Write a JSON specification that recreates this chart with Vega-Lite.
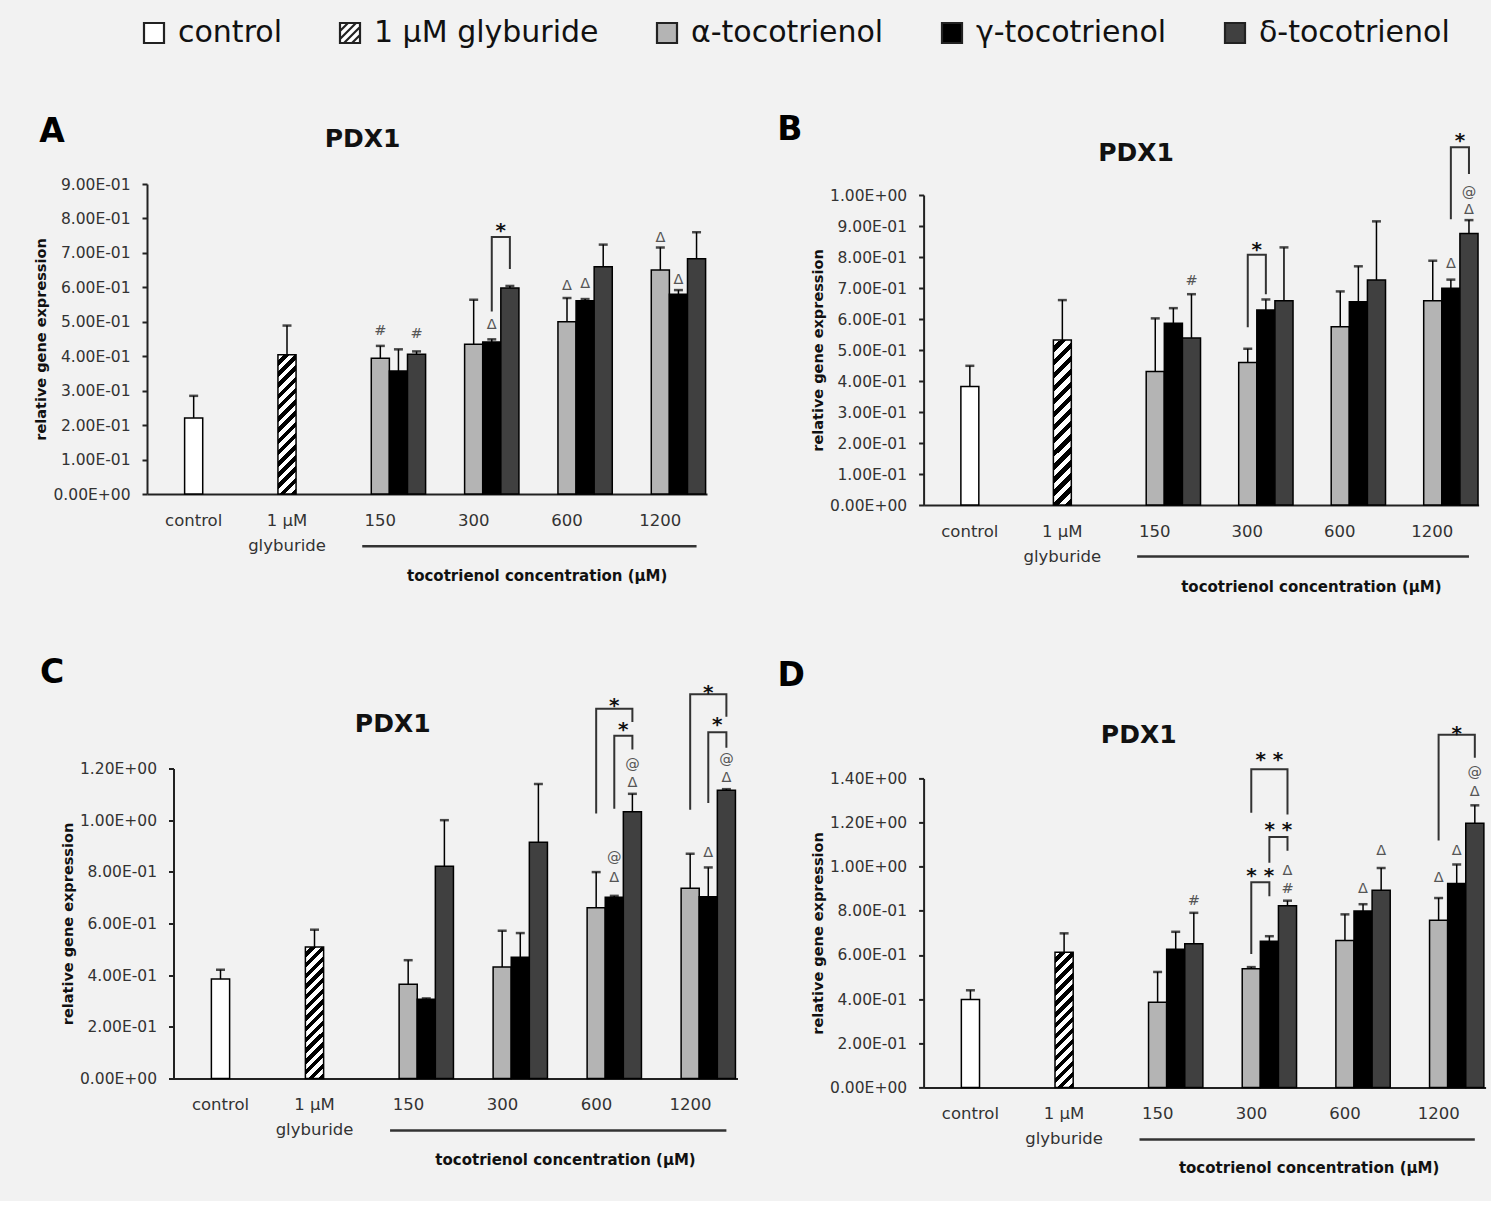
{
"$schema": "https://vega.github.io/schema/vega-lite/v6.json",
"background": "#f2f2f2",
"padding": {"left": 33, "top": 18, "right": 5, "bottom": 25},
"config": {
  "view": {"stroke": null},
  "font": "DejaVu Sans",
  "axis": {"grid": false, "domainColor": "#222", "domainWidth": 2, "labelFont": "DejaVu Sans", "labelColor": "#333", "titleFont": "DejaVu Sans", "titleColor": "#111", "titleFontWeight": "bold"},
  "axisX": {"ticks": false, "tickSize": 0, "labelFontSize": 16.5, "labelPadding": 18, "labelAngle": 0, "labelLineHeight": 25, "titleFontSize": 15, "titleBaseline": "middle", "titleAlign": "center"},
  "axisY": {"tickSize": 5, "tickWidth": 2, "tickColor": "#222", "labelFontSize": 15.5, "labelPadding": 12, "titleFontSize": 14.5, "titlePadding": 4}
},
"datasets": {
  "bars": [
    {"panel":"A","group":"control","series":"control","value":0.221,"hi":0.285},
    {"panel":"A","group":"1 µM glyburide","series":"1 µM glyburide","value":0.404,"hi":0.489},
    {"panel":"A","group":"150","series":"α-tocotrienol","value":0.394,"hi":0.43},
    {"panel":"A","group":"150","series":"γ-tocotrienol","value":0.357,"hi":0.42},
    {"panel":"A","group":"150","series":"δ-tocotrienol","value":0.406,"hi":0.414},
    {"panel":"A","group":"300","series":"α-tocotrienol","value":0.435,"hi":0.564},
    {"panel":"A","group":"300","series":"γ-tocotrienol","value":0.441,"hi":0.449},
    {"panel":"A","group":"300","series":"δ-tocotrienol","value":0.598,"hi":0.604},
    {"panel":"A","group":"600","series":"α-tocotrienol","value":0.5,"hi":0.569},
    {"panel":"A","group":"600","series":"γ-tocotrienol","value":0.561,"hi":0.566},
    {"panel":"A","group":"600","series":"δ-tocotrienol","value":0.66,"hi":0.724},
    {"panel":"A","group":"1200","series":"α-tocotrienol","value":0.65,"hi":0.716},
    {"panel":"A","group":"1200","series":"γ-tocotrienol","value":0.58,"hi":0.592},
    {"panel":"A","group":"1200","series":"δ-tocotrienol","value":0.683,"hi":0.76},
    {"panel":"B","group":"control","series":"control","value":0.382,"hi":0.449},
    {"panel":"B","group":"1 µM glyburide","series":"1 µM glyburide","value":0.532,"hi":0.661},
    {"panel":"B","group":"150","series":"α-tocotrienol","value":0.431,"hi":0.602},
    {"panel":"B","group":"150","series":"γ-tocotrienol","value":0.586,"hi":0.635},
    {"panel":"B","group":"150","series":"δ-tocotrienol","value":0.539,"hi":0.68},
    {"panel":"B","group":"300","series":"α-tocotrienol","value":0.46,"hi":0.504},
    {"panel":"B","group":"300","series":"γ-tocotrienol","value":0.629,"hi":0.663},
    {"panel":"B","group":"300","series":"δ-tocotrienol","value":0.659,"hi":0.831},
    {"panel":"B","group":"600","series":"α-tocotrienol","value":0.575,"hi":0.689},
    {"panel":"B","group":"600","series":"γ-tocotrienol","value":0.656,"hi":0.77},
    {"panel":"B","group":"600","series":"δ-tocotrienol","value":0.726,"hi":0.915},
    {"panel":"B","group":"1200","series":"α-tocotrienol","value":0.659,"hi":0.788},
    {"panel":"B","group":"1200","series":"γ-tocotrienol","value":0.699,"hi":0.727},
    {"panel":"B","group":"1200","series":"δ-tocotrienol","value":0.876,"hi":0.919},
    {"panel":"C","group":"control","series":"control","value":0.385,"hi":0.421},
    {"panel":"C","group":"1 µM glyburide","series":"1 µM glyburide","value":0.509,"hi":0.576},
    {"panel":"C","group":"150","series":"α-tocotrienol","value":0.365,"hi":0.458},
    {"panel":"C","group":"150","series":"γ-tocotrienol","value":0.307,"hi":0.31},
    {"panel":"C","group":"150","series":"δ-tocotrienol","value":0.822,"hi":1.0},
    {"panel":"C","group":"300","series":"α-tocotrienol","value":0.432,"hi":0.572},
    {"panel":"C","group":"300","series":"γ-tocotrienol","value":0.469,"hi":0.563},
    {"panel":"C","group":"300","series":"δ-tocotrienol","value":0.915,"hi":1.14},
    {"panel":"C","group":"600","series":"α-tocotrienol","value":0.661,"hi":0.799},
    {"panel":"C","group":"600","series":"γ-tocotrienol","value":0.702,"hi":0.707},
    {"panel":"C","group":"600","series":"δ-tocotrienol","value":1.033,"hi":1.102},
    {"panel":"C","group":"1200","series":"α-tocotrienol","value":0.736,"hi":0.87},
    {"panel":"C","group":"1200","series":"γ-tocotrienol","value":0.704,"hi":0.817},
    {"panel":"C","group":"1200","series":"δ-tocotrienol","value":1.116,"hi":1.12},
    {"panel":"D","group":"control","series":"control","value":0.398,"hi":0.44},
    {"panel":"D","group":"1 µM glyburide","series":"1 µM glyburide","value":0.612,"hi":0.698},
    {"panel":"D","group":"150","series":"α-tocotrienol","value":0.386,"hi":0.523},
    {"panel":"D","group":"150","series":"γ-tocotrienol","value":0.626,"hi":0.705},
    {"panel":"D","group":"150","series":"δ-tocotrienol","value":0.651,"hi":0.791},
    {"panel":"D","group":"300","series":"α-tocotrienol","value":0.538,"hi":0.545},
    {"panel":"D","group":"300","series":"γ-tocotrienol","value":0.662,"hi":0.685},
    {"panel":"D","group":"300","series":"δ-tocotrienol","value":0.823,"hi":0.846},
    {"panel":"D","group":"600","series":"α-tocotrienol","value":0.666,"hi":0.784},
    {"panel":"D","group":"600","series":"γ-tocotrienol","value":0.799,"hi":0.83},
    {"panel":"D","group":"600","series":"δ-tocotrienol","value":0.893,"hi":0.994},
    {"panel":"D","group":"1200","series":"α-tocotrienol","value":0.757,"hi":0.858},
    {"panel":"D","group":"1200","series":"γ-tocotrienol","value":0.924,"hi":1.01},
    {"panel":"D","group":"1200","series":"δ-tocotrienol","value":1.197,"hi":1.278}
  ],
  "notes": [
    {"panel":"A","group":"150","series":"α-tocotrienol","sym":"#","value":0.474},
    {"panel":"A","group":"150","series":"δ-tocotrienol","sym":"#","value":0.464},
    {"panel":"A","group":"300","series":"γ-tocotrienol","sym":"Δ","value":0.491},
    {"panel":"A","group":"600","series":"α-tocotrienol","sym":"Δ","value":0.605},
    {"panel":"A","group":"600","series":"γ-tocotrienol","sym":"Δ","value":0.61},
    {"panel":"A","group":"1200","series":"α-tocotrienol","sym":"Δ","value":0.744},
    {"panel":"A","group":"1200","series":"γ-tocotrienol","sym":"Δ","value":0.62},
    {"panel":"B","group":"150","series":"δ-tocotrienol","sym":"#","value":0.723},
    {"panel":"B","group":"1200","series":"γ-tocotrienol","sym":"Δ","value":0.777},
    {"panel":"B","group":"1200","series":"δ-tocotrienol","sym":"Δ","value":0.952},
    {"panel":"B","group":"1200","series":"δ-tocotrienol","sym":"@","value":1.008},
    {"panel":"C","group":"600","series":"γ-tocotrienol","sym":"Δ","value":0.776},
    {"panel":"C","group":"600","series":"γ-tocotrienol","sym":"@","value":0.853},
    {"panel":"C","group":"600","series":"δ-tocotrienol","sym":"Δ","value":1.143},
    {"panel":"C","group":"600","series":"δ-tocotrienol","sym":"@","value":1.213},
    {"panel":"C","group":"1200","series":"γ-tocotrienol","sym":"Δ","value":0.873},
    {"panel":"C","group":"1200","series":"δ-tocotrienol","sym":"Δ","value":1.164},
    {"panel":"C","group":"1200","series":"δ-tocotrienol","sym":"@","value":1.233},
    {"panel":"D","group":"150","series":"δ-tocotrienol","sym":"#","value":0.846},
    {"panel":"D","group":"300","series":"δ-tocotrienol","sym":"#","value":0.9},
    {"panel":"D","group":"300","series":"δ-tocotrienol","sym":"Δ","value":0.982},
    {"panel":"D","group":"600","series":"γ-tocotrienol","sym":"Δ","value":0.9},
    {"panel":"D","group":"600","series":"δ-tocotrienol","sym":"Δ","value":1.072},
    {"panel":"D","group":"1200","series":"α-tocotrienol","sym":"Δ","value":0.947},
    {"panel":"D","group":"1200","series":"γ-tocotrienol","sym":"Δ","value":1.072},
    {"panel":"D","group":"1200","series":"δ-tocotrienol","sym":"Δ","value":1.338},
    {"panel":"D","group":"1200","series":"δ-tocotrienol","sym":"@","value":1.424}
  ],
  "brackets": [
    {"panel":"A","bid":"A1","ord":1,"group":"300","series":"γ-tocotrienol","value":0.53},
    {"panel":"A","bid":"A1","ord":2,"group":"300","series":"γ-tocotrienol","value":0.746},
    {"panel":"A","bid":"A1","ord":3,"group":"300","series":"δ-tocotrienol","value":0.746},
    {"panel":"A","bid":"A1","ord":4,"group":"300","series":"δ-tocotrienol","value":0.653},
    {"panel":"B","bid":"B1","ord":1,"group":"300","series":"α-tocotrienol","value":0.573},
    {"panel":"B","bid":"B1","ord":2,"group":"300","series":"α-tocotrienol","value":0.807},
    {"panel":"B","bid":"B1","ord":3,"group":"300","series":"γ-tocotrienol","value":0.807},
    {"panel":"B","bid":"B1","ord":4,"group":"300","series":"γ-tocotrienol","value":0.68},
    {"panel":"B","bid":"B2","ord":1,"group":"1200","series":"γ-tocotrienol","value":0.922},
    {"panel":"B","bid":"B2","ord":2,"group":"1200","series":"γ-tocotrienol","value":1.154},
    {"panel":"B","bid":"B2","ord":3,"group":"1200","series":"δ-tocotrienol","value":1.154},
    {"panel":"B","bid":"B2","ord":4,"group":"1200","series":"δ-tocotrienol","value":1.068},
    {"panel":"C","bid":"C1","ord":1,"group":"600","series":"α-tocotrienol","value":1.026},
    {"panel":"C","bid":"C1","ord":2,"group":"600","series":"α-tocotrienol","value":1.431},
    {"panel":"C","bid":"C1","ord":3,"group":"600","series":"δ-tocotrienol","value":1.431},
    {"panel":"C","bid":"C1","ord":4,"group":"600","series":"δ-tocotrienol","value":1.38},
    {"panel":"C","bid":"C2","ord":1,"group":"600","series":"γ-tocotrienol","value":1.044},
    {"panel":"C","bid":"C2","ord":2,"group":"600","series":"γ-tocotrienol","value":1.327},
    {"panel":"C","bid":"C2","ord":3,"group":"600","series":"δ-tocotrienol","value":1.327},
    {"panel":"C","bid":"C2","ord":4,"group":"600","series":"δ-tocotrienol","value":1.274},
    {"panel":"C","bid":"C3","ord":1,"group":"1200","series":"α-tocotrienol","value":1.04},
    {"panel":"C","bid":"C3","ord":2,"group":"1200","series":"α-tocotrienol","value":1.487},
    {"panel":"C","bid":"C3","ord":3,"group":"1200","series":"δ-tocotrienol","value":1.487},
    {"panel":"C","bid":"C3","ord":4,"group":"1200","series":"δ-tocotrienol","value":1.4},
    {"panel":"C","bid":"C4","ord":1,"group":"1200","series":"γ-tocotrienol","value":1.066},
    {"panel":"C","bid":"C4","ord":2,"group":"1200","series":"γ-tocotrienol","value":1.34},
    {"panel":"C","bid":"C4","ord":3,"group":"1200","series":"δ-tocotrienol","value":1.34},
    {"panel":"C","bid":"C4","ord":4,"group":"1200","series":"δ-tocotrienol","value":1.28},
    {"panel":"D","bid":"D1","ord":1,"group":"300","series":"α-tocotrienol","value":0.604},
    {"panel":"D","bid":"D1","ord":2,"group":"300","series":"α-tocotrienol","value":0.929},
    {"panel":"D","bid":"D1","ord":3,"group":"300","series":"γ-tocotrienol","value":0.929},
    {"panel":"D","bid":"D1","ord":4,"group":"300","series":"γ-tocotrienol","value":0.866},
    {"panel":"D","bid":"D2","ord":1,"group":"300","series":"γ-tocotrienol","value":1.018},
    {"panel":"D","bid":"D2","ord":2,"group":"300","series":"γ-tocotrienol","value":1.135},
    {"panel":"D","bid":"D2","ord":3,"group":"300","series":"δ-tocotrienol","value":1.135},
    {"panel":"D","bid":"D2","ord":4,"group":"300","series":"δ-tocotrienol","value":1.072},
    {"panel":"D","bid":"D3","ord":1,"group":"300","series":"α-tocotrienol","value":1.244},
    {"panel":"D","bid":"D3","ord":2,"group":"300","series":"α-tocotrienol","value":1.442},
    {"panel":"D","bid":"D3","ord":3,"group":"300","series":"δ-tocotrienol","value":1.442},
    {"panel":"D","bid":"D3","ord":4,"group":"300","series":"δ-tocotrienol","value":1.236},
    {"panel":"D","bid":"D4","ord":1,"group":"1200","series":"α-tocotrienol","value":1.119},
    {"panel":"D","bid":"D4","ord":2,"group":"1200","series":"α-tocotrienol","value":1.598},
    {"panel":"D","bid":"D4","ord":3,"group":"1200","series":"δ-tocotrienol","value":1.598},
    {"panel":"D","bid":"D4","ord":4,"group":"1200","series":"δ-tocotrienol","value":1.494}
  ],
  "stars": [
    {"panel":"A","group":"300","series":"γ-tocotrienol","kind":"mid","star":"*","value":0.777},
    {"panel":"B","group":"300","series":"α-tocotrienol","kind":"mid","star":"*","value":0.84},
    {"panel":"B","group":"1200","series":"γ-tocotrienol","kind":"mid","star":"*","value":1.19},
    {"panel":"C","group":"600","series":"γ-tocotrienol","kind":"center","star":"*","value":1.463},
    {"panel":"C","group":"600","series":"γ-tocotrienol","kind":"mid","star":"*","value":1.37},
    {"panel":"C","group":"1200","series":"γ-tocotrienol","kind":"center","star":"*","value":1.51},
    {"panel":"C","group":"1200","series":"γ-tocotrienol","kind":"mid","star":"*","value":1.387},
    {"panel":"D","group":"300","series":"α-tocotrienol","kind":"mid","star":"* *","value":0.979},
    {"panel":"D","group":"300","series":"γ-tocotrienol","kind":"mid","star":"* *","value":1.19},
    {"panel":"D","group":"300","series":"γ-tocotrienol","kind":"center","star":"* *","value":1.505},
    {"panel":"D","group":"1200","series":"γ-tocotrienol","kind":"center","star":"*","value":1.626}
  ],
  "underline": [
    {"group":"150","series":"_2"},
    {"group":"1200","series":"δ-tocotrienol"}
  ]
},
"spacing": 38.6,
"hconcat": [
 {"spacing": 73.5, "vconcat": [
  {
    "width": 560, "height": 310,
    "layer": [
     {
      "encoding": {
        "x": {"field": "group", "type": "nominal", "scale": {"domain": ["control","1 µM glyburide","150","300","600","1200"], "paddingInner": 0.03, "paddingOuter": 0.015}, "axis": {"title": "tocotrienol concentration (µM)", "titleX": 389.7, "titleY": 81, "labelExpr": "datum.value == '1 µM glyburide' ? ['1 µM', 'glyburide'] : datum.label"}},
        "y": {"field": "value", "type": "quantitative", "title": "relative gene expression", "scale": {"domain": [0, 0.9], "nice": false}, "axis": {"values": [0,0.1,0.2,0.3,0.4,0.5,0.6,0.7,0.8,0.9], "labelExpr": "slice(format(datum.value,'.2e'),0,4)+'E'+slice(format(datum.value,'.2e'),5,6)+'0'+slice(format(datum.value,'.2e'),6)"}}
      },
      "layer": [
        {"data": {"name": "bars"}, "transform": [{"filter": "datum.panel == 'A'"}], "mark": {"type": "point", "filled": true, "opacity": 0},
         "encoding": {
           "color": {"field": "series", "type": "nominal", "scale": {"domain": ["control","1 µM glyburide","α-tocotrienol","γ-tocotrienol","δ-tocotrienol"], "range": ["#ffffff","#ffffff","#b4b4b4","#000000","#404040"]},
             "legend": {"orient": "none", "legendX": -8, "legendY": -166, "direction": "horizontal", "title": null, "padding": 0, "symbolSize": 400, "symbolStrokeColor": "#222", "symbolStrokeWidth": 2.2, "symbolOpacity": 1, "labelFont": "DejaVu Sans", "labelFontSize": 30, "labelColor": "#111", "labelOffset": 9, "columnPadding": 53, "labelLimit": 500, "encode": {"symbols": {"update": {"stroke": {"value": "#222"}, "strokeWidth": {"value": 2.2}}}}}},
           "shape": {"field": "series", "type": "nominal", "scale": {"domain": ["control","1 µM glyburide","α-tocotrienol","γ-tocotrienol","δ-tocotrienol"], "range": ["square","M-1,-1H1V1H-1Z M-1,-0.2L-0.2,-1 M-1,0.6L0.6,-1 M-0.6,1L1,-0.6 M0.2,1L1,0.2","square","square","square"]},
             "legend": {"orient": "none", "legendX": -8, "legendY": -166, "direction": "horizontal", "title": null, "padding": 0, "symbolSize": 400, "symbolStrokeColor": "#222", "symbolStrokeWidth": 2.2, "symbolOpacity": 1, "labelFont": "DejaVu Sans", "labelFontSize": 30, "labelColor": "#111", "labelOffset": 9, "columnPadding": 53, "labelLimit": 500, "encode": {"symbols": {"update": {"stroke": {"value": "#222"}, "strokeWidth": {"value": 2.2}}}}}}
         }},
        {"data": {"name": "bars"}, "transform": [{"filter": "datum.panel == 'A' && datum.series == 'control'"}], "mark": {"type": "bar", "width": {"band": 0.2}, "fill": "#ffffff", "stroke": "#000", "strokeWidth": 1.5}},
        {"data": {"name": "bars"}, "transform": [{"filter": "datum.panel == 'A' && datum.series == '1 µM glyburide'"}], "mark": {"type": "bar", "width": {"band": 0.2}, "stroke": "#000", "strokeWidth": 1.5, "fill": {"gradient": "linear", "x1": 0, "y1": 0, "x2": 0.1447, "y2": 1.1114, "stops": [{"offset":0,"color":"#fff"},{"offset":0.0357,"color":"#fff"},{"offset":0.0357,"color":"#000"},{"offset":0.0714,"color":"#000"},{"offset":0.0714,"color":"#fff"},{"offset":0.1071,"color":"#fff"},{"offset":0.1071,"color":"#000"},{"offset":0.1429,"color":"#000"},{"offset":0.1429,"color":"#fff"},{"offset":0.1786,"color":"#fff"},{"offset":0.1786,"color":"#000"},{"offset":0.2143,"color":"#000"},{"offset":0.2143,"color":"#fff"},{"offset":0.25,"color":"#fff"},{"offset":0.25,"color":"#000"},{"offset":0.2857,"color":"#000"},{"offset":0.2857,"color":"#fff"},{"offset":0.3214,"color":"#fff"},{"offset":0.3214,"color":"#000"},{"offset":0.3571,"color":"#000"},{"offset":0.3571,"color":"#fff"},{"offset":0.3929,"color":"#fff"},{"offset":0.3929,"color":"#000"},{"offset":0.4286,"color":"#000"},{"offset":0.4286,"color":"#fff"},{"offset":0.4643,"color":"#fff"},{"offset":0.4643,"color":"#000"},{"offset":0.5,"color":"#000"},{"offset":0.5,"color":"#fff"},{"offset":0.5357,"color":"#fff"},{"offset":0.5357,"color":"#000"},{"offset":0.5714,"color":"#000"},{"offset":0.5714,"color":"#fff"},{"offset":0.6071,"color":"#fff"},{"offset":0.6071,"color":"#000"},{"offset":0.6429,"color":"#000"},{"offset":0.6429,"color":"#fff"},{"offset":0.6786,"color":"#fff"},{"offset":0.6786,"color":"#000"},{"offset":0.7143,"color":"#000"},{"offset":0.7143,"color":"#fff"},{"offset":0.75,"color":"#fff"},{"offset":0.75,"color":"#000"},{"offset":0.7857,"color":"#000"},{"offset":0.7857,"color":"#fff"},{"offset":0.8214,"color":"#fff"},{"offset":0.8214,"color":"#000"},{"offset":0.8571,"color":"#000"},{"offset":0.8571,"color":"#fff"},{"offset":0.8929,"color":"#fff"},{"offset":0.8929,"color":"#000"},{"offset":0.9286,"color":"#000"},{"offset":0.9286,"color":"#fff"},{"offset":0.9643,"color":"#fff"},{"offset":0.9643,"color":"#000"},{"offset":1,"color":"#000"}]}}},
        {"data": {"name": "bars"}, "transform": [{"filter": "datum.panel == 'A' && datum.group != 'control' && datum.group != '1 µM glyburide'"}], "mark": {"type": "bar", "stroke": "#000", "strokeWidth": 1.5},
         "encoding": {
           "xOffset": {"field": "series", "type": "nominal", "scale": {"domain": ["_1","_2","α-tocotrienol","γ-tocotrienol","δ-tocotrienol"], "paddingInner": 0, "paddingOuter": 0}},
           "fill": {"field": "series", "type": "nominal", "scale": {"domain": ["control","1 µM glyburide","α-tocotrienol","γ-tocotrienol","δ-tocotrienol"], "range": ["#ffffff","#ffffff","#b4b4b4","#000000","#404040"]}, "legend": null}
         }},
        {"data": {"name": "bars"}, "transform": [{"filter": "datum.panel == 'A' && (datum.group == 'control' || datum.group == '1 µM glyburide')"}], "mark": {"type": "rule", "color": "#000", "strokeWidth": 1.5}, "encoding": {"y2": {"field": "hi"}}},
        {"data": {"name": "bars"}, "transform": [{"filter": "datum.panel == 'A' && (datum.group == 'control' || datum.group == '1 µM glyburide')"}], "mark": {"type": "tick", "color": "#000", "thickness": 2.5, "size": 9}, "encoding": {"y": {"field": "hi", "type": "quantitative", "title": "relative gene expression"}}},
        {"data": {"name": "bars"}, "transform": [{"filter": "datum.panel == 'A' && datum.group != 'control' && datum.group != '1 µM glyburide'"}], "mark": {"type": "rule", "color": "#000", "strokeWidth": 1.5}, "encoding": {"xOffset": {"field": "series", "type": "nominal"}, "y2": {"field": "hi"}}},
        {"data": {"name": "bars"}, "transform": [{"filter": "datum.panel == 'A' && datum.group != 'control' && datum.group != '1 µM glyburide'"}], "mark": {"type": "tick", "color": "#000", "thickness": 2.5, "size": 9}, "encoding": {"xOffset": {"field": "series", "type": "nominal"}, "y": {"field": "hi", "type": "quantitative", "title": "relative gene expression"}}},
        {"data": {"name": "notes"}, "transform": [{"filter": "datum.panel == 'A'"}], "mark": {"type": "text", "fontSize": 14.5, "color": "#555", "baseline": "middle"}, "encoding": {"xOffset": {"field": "series", "type": "nominal"}, "text": {"field": "sym"}}},
        {"data": {"name": "brackets"}, "transform": [{"filter": "datum.panel == 'A'"}], "mark": {"type": "line", "color": "#333", "strokeWidth": 2}, "encoding": {"xOffset": {"field": "series", "type": "nominal"}, "detail": {"field": "bid"}, "order": {"field": "ord"}}},
        {"data": {"name": "stars"}, "transform": [{"filter": "datum.panel == 'A' && datum.kind == 'center'"}], "mark": {"type": "text", "fontSize": 20, "fontWeight": "bold", "color": "#111", "baseline": "middle", "dy": 5}, "encoding": {"xOffset": {"field": "series", "type": "nominal"}, "text": {"field": "star"}}},
        {"data": {"name": "stars"}, "transform": [{"filter": "datum.panel == 'A' && datum.kind == 'mid'"}], "mark": {"type": "text", "fontSize": 20, "fontWeight": "bold", "color": "#111", "baseline": "middle", "dy": 5, "dx": 9}, "encoding": {"xOffset": {"field": "series", "type": "nominal"}, "text": {"field": "star"}}}
      ]
     },
     {"data": {"name": "underline"}, "mark": {"type": "line", "color": "#333", "strokeWidth": 2.5}, "encoding": {"x": {"field": "group", "type": "nominal", "title": "tocotrienol concentration (µM)"}, "xOffset": {"field": "series", "type": "nominal"}, "y": {"datum": -0.152, "title": "relative gene expression", "axis": {"values": [0,0.1,0.2,0.3,0.4,0.5,0.6,0.7,0.8,0.9], "labelExpr": "slice(format(datum.value,'.2e'),0,4)+'E'+slice(format(datum.value,'.2e'),5,6)+'0'+slice(format(datum.value,'.2e'),6)"}}}},
     {"data": {"values": [{"label": "PDX1"}]}, "mark": {"type": "text", "fontSize": 25, "fontWeight": "bold", "color": "#111", "baseline": "middle"}, "encoding": {"x": {"datum": "150", "bandPosition": 0.304, "title": "tocotrienol concentration (µM)"}, "y": {"datum": 1.032, "title": "relative gene expression", "axis": {"values": [0,0.1,0.2,0.3,0.4,0.5,0.6,0.7,0.8,0.9], "labelExpr": "slice(format(datum.value,'.2e'),0,4)+'E'+slice(format(datum.value,'.2e'),5,6)+'0'+slice(format(datum.value,'.2e'),6)"}}, "text": {"field": "label"}}},
     {"data": {"values": [{"label": "A"}]}, "mark": {"type": "text", "fontSize": 33, "fontWeight": "bold", "color": "#000", "baseline": "middle"}, "encoding": {"x": {"datum": "control", "bandPosition": -1.065, "title": "tocotrienol concentration (µM)"}, "y": {"datum": 1.051, "title": "relative gene expression", "axis": {"values": [0,0.1,0.2,0.3,0.4,0.5,0.6,0.7,0.8,0.9], "labelExpr": "slice(format(datum.value,'.2e'),0,4)+'E'+slice(format(datum.value,'.2e'),5,6)+'0'+slice(format(datum.value,'.2e'),6)"}}, "text": {"field": "label"}}}
    ]
  },
  {
    "width": 590.5, "height": 310,
    "layer": [
     {
      "encoding": {
        "x": {"field": "group", "type": "nominal", "scale": {"domain": ["control","1 µM glyburide","150","300","600","1200"], "range": [26.5, 590.5], "paddingInner": 0.03, "paddingOuter": 0.015}, "axis": {"title": "tocotrienol concentration (µM)", "titleX": 418, "titleY": 80.7, "labelExpr": "datum.value == '1 µM glyburide' ? ['1 µM', 'glyburide'] : datum.label"}},
        "y": {"field": "value", "type": "quantitative", "title": "relative gene expression", "scale": {"domain": [0, 1.2], "nice": false}, "axis": {"offset": -26.5, "values": [0,0.2,0.4,0.6,0.8,1.0,1.2], "labelExpr": "slice(format(datum.value,'.2e'),0,4)+'E'+slice(format(datum.value,'.2e'),5,6)+'0'+slice(format(datum.value,'.2e'),6)"}}
      },
      "layer": [
        {"data": {"name": "bars"}, "transform": [{"filter": "datum.panel == 'C' && datum.series == 'control'"}], "mark": {"type": "bar", "width": {"band": 0.2}, "fill": "#ffffff", "stroke": "#000", "strokeWidth": 1.5}},
        {"data": {"name": "bars"}, "transform": [{"filter": "datum.panel == 'C' && datum.series == '1 µM glyburide'"}], "mark": {"type": "bar", "width": {"band": 0.2}, "stroke": "#000", "strokeWidth": 1.5, "fill": {"gradient": "linear", "x1": 0, "y1": 0, "x2": 0.1546, "y2": 1.117, "stops": [{"offset":0,"color":"#fff"},{"offset":0.0357,"color":"#fff"},{"offset":0.0357,"color":"#000"},{"offset":0.0714,"color":"#000"},{"offset":0.0714,"color":"#fff"},{"offset":0.1071,"color":"#fff"},{"offset":0.1071,"color":"#000"},{"offset":0.1429,"color":"#000"},{"offset":0.1429,"color":"#fff"},{"offset":0.1786,"color":"#fff"},{"offset":0.1786,"color":"#000"},{"offset":0.2143,"color":"#000"},{"offset":0.2143,"color":"#fff"},{"offset":0.25,"color":"#fff"},{"offset":0.25,"color":"#000"},{"offset":0.2857,"color":"#000"},{"offset":0.2857,"color":"#fff"},{"offset":0.3214,"color":"#fff"},{"offset":0.3214,"color":"#000"},{"offset":0.3571,"color":"#000"},{"offset":0.3571,"color":"#fff"},{"offset":0.3929,"color":"#fff"},{"offset":0.3929,"color":"#000"},{"offset":0.4286,"color":"#000"},{"offset":0.4286,"color":"#fff"},{"offset":0.4643,"color":"#fff"},{"offset":0.4643,"color":"#000"},{"offset":0.5,"color":"#000"},{"offset":0.5,"color":"#fff"},{"offset":0.5357,"color":"#fff"},{"offset":0.5357,"color":"#000"},{"offset":0.5714,"color":"#000"},{"offset":0.5714,"color":"#fff"},{"offset":0.6071,"color":"#fff"},{"offset":0.6071,"color":"#000"},{"offset":0.6429,"color":"#000"},{"offset":0.6429,"color":"#fff"},{"offset":0.6786,"color":"#fff"},{"offset":0.6786,"color":"#000"},{"offset":0.7143,"color":"#000"},{"offset":0.7143,"color":"#fff"},{"offset":0.75,"color":"#fff"},{"offset":0.75,"color":"#000"},{"offset":0.7857,"color":"#000"},{"offset":0.7857,"color":"#fff"},{"offset":0.8214,"color":"#fff"},{"offset":0.8214,"color":"#000"},{"offset":0.8571,"color":"#000"},{"offset":0.8571,"color":"#fff"},{"offset":0.8929,"color":"#fff"},{"offset":0.8929,"color":"#000"},{"offset":0.9286,"color":"#000"},{"offset":0.9286,"color":"#fff"},{"offset":0.9643,"color":"#fff"},{"offset":0.9643,"color":"#000"},{"offset":1,"color":"#000"}]}}},
        {"data": {"name": "bars"}, "transform": [{"filter": "datum.panel == 'C' && datum.group != 'control' && datum.group != '1 µM glyburide'"}], "mark": {"type": "bar", "stroke": "#000", "strokeWidth": 1.5},
         "encoding": {
           "xOffset": {"field": "series", "type": "nominal", "scale": {"domain": ["_1","_2","α-tocotrienol","γ-tocotrienol","δ-tocotrienol"], "paddingInner": 0, "paddingOuter": 0}},
           "fill": {"field": "series", "type": "nominal", "scale": {"domain": ["control","1 µM glyburide","α-tocotrienol","γ-tocotrienol","δ-tocotrienol"], "range": ["#ffffff","#ffffff","#b4b4b4","#000000","#404040"]}, "legend": null}
         }},
        {"data": {"name": "bars"}, "transform": [{"filter": "datum.panel == 'C' && (datum.group == 'control' || datum.group == '1 µM glyburide')"}], "mark": {"type": "rule", "color": "#000", "strokeWidth": 1.5}, "encoding": {"y2": {"field": "hi"}}},
        {"data": {"name": "bars"}, "transform": [{"filter": "datum.panel == 'C' && (datum.group == 'control' || datum.group == '1 µM glyburide')"}], "mark": {"type": "tick", "color": "#000", "thickness": 2.5, "size": 9}, "encoding": {"y": {"field": "hi", "type": "quantitative", "title": "relative gene expression"}}},
        {"data": {"name": "bars"}, "transform": [{"filter": "datum.panel == 'C' && datum.group != 'control' && datum.group != '1 µM glyburide'"}], "mark": {"type": "rule", "color": "#000", "strokeWidth": 1.5}, "encoding": {"xOffset": {"field": "series", "type": "nominal"}, "y2": {"field": "hi"}}},
        {"data": {"name": "bars"}, "transform": [{"filter": "datum.panel == 'C' && datum.group != 'control' && datum.group != '1 µM glyburide'"}], "mark": {"type": "tick", "color": "#000", "thickness": 2.5, "size": 9}, "encoding": {"xOffset": {"field": "series", "type": "nominal"}, "y": {"field": "hi", "type": "quantitative", "title": "relative gene expression"}}},
        {"data": {"name": "notes"}, "transform": [{"filter": "datum.panel == 'C'"}], "mark": {"type": "text", "fontSize": 14.5, "color": "#555", "baseline": "middle"}, "encoding": {"xOffset": {"field": "series", "type": "nominal"}, "text": {"field": "sym"}}},
        {"data": {"name": "brackets"}, "transform": [{"filter": "datum.panel == 'C'"}], "mark": {"type": "line", "color": "#333", "strokeWidth": 2}, "encoding": {"xOffset": {"field": "series", "type": "nominal"}, "detail": {"field": "bid"}, "order": {"field": "ord"}}},
        {"data": {"name": "stars"}, "transform": [{"filter": "datum.panel == 'C' && datum.kind == 'center'"}], "mark": {"type": "text", "fontSize": 20, "fontWeight": "bold", "color": "#111", "baseline": "middle", "dy": 5}, "encoding": {"xOffset": {"field": "series", "type": "nominal"}, "text": {"field": "star"}}},
        {"data": {"name": "stars"}, "transform": [{"filter": "datum.panel == 'C' && datum.kind == 'mid'"}], "mark": {"type": "text", "fontSize": 20, "fontWeight": "bold", "color": "#111", "baseline": "middle", "dy": 5, "dx": 9}, "encoding": {"xOffset": {"field": "series", "type": "nominal"}, "text": {"field": "star"}}}
      ]
     },
     {"data": {"name": "underline"}, "mark": {"type": "line", "color": "#333", "strokeWidth": 2.5}, "encoding": {"x": {"field": "group", "type": "nominal", "title": "tocotrienol concentration (µM)"}, "xOffset": {"field": "series", "type": "nominal"}, "y": {"datum": -0.201, "title": "relative gene expression", "axis": {"offset": -26.5, "values": [0,0.2,0.4,0.6,0.8,1.0,1.2], "labelExpr": "slice(format(datum.value,'.2e'),0,4)+'E'+slice(format(datum.value,'.2e'),5,6)+'0'+slice(format(datum.value,'.2e'),6)"}}}},
     {"data": {"values": [{"label": "PDX1"}]}, "mark": {"type": "text", "fontSize": 25, "fontWeight": "bold", "color": "#111", "baseline": "middle"}, "encoding": {"x": {"datum": "150", "bandPosition": 0.327, "title": "tocotrienol concentration (µM)"}, "y": {"datum": 1.374, "title": "relative gene expression", "axis": {"offset": -26.5, "values": [0,0.2,0.4,0.6,0.8,1.0,1.2], "labelExpr": "slice(format(datum.value,'.2e'),0,4)+'E'+slice(format(datum.value,'.2e'),5,6)+'0'+slice(format(datum.value,'.2e'),6)"}}, "text": {"field": "label"}}},
     {"data": {"values": [{"label": "C"}]}, "mark": {"type": "text", "fontSize": 33, "fontWeight": "bold", "color": "#000", "baseline": "middle"}, "encoding": {"x": {"datum": "control", "bandPosition": -1.348, "title": "tocotrienol concentration (µM)"}, "y": {"datum": 1.568, "title": "relative gene expression", "axis": {"offset": -26.5, "values": [0,0.2,0.4,0.6,0.8,1.0,1.2], "labelExpr": "slice(format(datum.value,'.2e'),0,4)+'E'+slice(format(datum.value,'.2e'),5,6)+'0'+slice(format(datum.value,'.2e'),6)"}}, "text": {"field": "label"}}}
    ]
  }
 ]},
 {"spacing": 65.4, "vconcat": [
  {
    "width": 555, "height": 321,
    "layer": [
     {
      "encoding": {
        "x": {"field": "group", "type": "nominal", "scale": {"domain": ["control","1 µM glyburide","150","300","600","1200"], "paddingInner": 0.03, "paddingOuter": 0.015}, "axis": {"title": "tocotrienol concentration (µM)", "titleX": 387.3, "titleY": 81.6, "labelExpr": "datum.value == '1 µM glyburide' ? ['1 µM', 'glyburide'] : datum.label"}},
        "y": {"field": "value", "type": "quantitative", "title": "relative gene expression", "scale": {"domain": [0, 1.0], "range": [321, 11], "nice": false}, "axis": {"values": [0,0.1,0.2,0.3,0.4,0.5,0.6,0.7,0.8,0.9,1.0], "labelExpr": "slice(format(datum.value,'.2e'),0,4)+'E'+slice(format(datum.value,'.2e'),5,6)+'0'+slice(format(datum.value,'.2e'),6)"}}
      },
      "layer": [
        {"data": {"name": "bars"}, "transform": [{"filter": "datum.panel == 'B' && datum.series == 'control'"}], "mark": {"type": "bar", "width": {"band": 0.2}, "fill": "#ffffff", "stroke": "#000", "strokeWidth": 1.5}},
        {"data": {"name": "bars"}, "transform": [{"filter": "datum.panel == 'B' && datum.series == '1 µM glyburide'"}], "mark": {"type": "bar", "width": {"band": 0.2}, "stroke": "#000", "strokeWidth": 1.5, "fill": {"gradient": "linear", "x1": 0, "y1": 0, "x2": 0.1189, "y2": 1.0956, "stops": [{"offset":0,"color":"#fff"},{"offset":0.0357,"color":"#fff"},{"offset":0.0357,"color":"#000"},{"offset":0.0714,"color":"#000"},{"offset":0.0714,"color":"#fff"},{"offset":0.1071,"color":"#fff"},{"offset":0.1071,"color":"#000"},{"offset":0.1429,"color":"#000"},{"offset":0.1429,"color":"#fff"},{"offset":0.1786,"color":"#fff"},{"offset":0.1786,"color":"#000"},{"offset":0.2143,"color":"#000"},{"offset":0.2143,"color":"#fff"},{"offset":0.25,"color":"#fff"},{"offset":0.25,"color":"#000"},{"offset":0.2857,"color":"#000"},{"offset":0.2857,"color":"#fff"},{"offset":0.3214,"color":"#fff"},{"offset":0.3214,"color":"#000"},{"offset":0.3571,"color":"#000"},{"offset":0.3571,"color":"#fff"},{"offset":0.3929,"color":"#fff"},{"offset":0.3929,"color":"#000"},{"offset":0.4286,"color":"#000"},{"offset":0.4286,"color":"#fff"},{"offset":0.4643,"color":"#fff"},{"offset":0.4643,"color":"#000"},{"offset":0.5,"color":"#000"},{"offset":0.5,"color":"#fff"},{"offset":0.5357,"color":"#fff"},{"offset":0.5357,"color":"#000"},{"offset":0.5714,"color":"#000"},{"offset":0.5714,"color":"#fff"},{"offset":0.6071,"color":"#fff"},{"offset":0.6071,"color":"#000"},{"offset":0.6429,"color":"#000"},{"offset":0.6429,"color":"#fff"},{"offset":0.6786,"color":"#fff"},{"offset":0.6786,"color":"#000"},{"offset":0.7143,"color":"#000"},{"offset":0.7143,"color":"#fff"},{"offset":0.75,"color":"#fff"},{"offset":0.75,"color":"#000"},{"offset":0.7857,"color":"#000"},{"offset":0.7857,"color":"#fff"},{"offset":0.8214,"color":"#fff"},{"offset":0.8214,"color":"#000"},{"offset":0.8571,"color":"#000"},{"offset":0.8571,"color":"#fff"},{"offset":0.8929,"color":"#fff"},{"offset":0.8929,"color":"#000"},{"offset":0.9286,"color":"#000"},{"offset":0.9286,"color":"#fff"},{"offset":0.9643,"color":"#fff"},{"offset":0.9643,"color":"#000"},{"offset":1,"color":"#000"}]}}},
        {"data": {"name": "bars"}, "transform": [{"filter": "datum.panel == 'B' && datum.group != 'control' && datum.group != '1 µM glyburide'"}], "mark": {"type": "bar", "stroke": "#000", "strokeWidth": 1.5},
         "encoding": {
           "xOffset": {"field": "series", "type": "nominal", "scale": {"domain": ["_1","_2","α-tocotrienol","γ-tocotrienol","δ-tocotrienol"], "paddingInner": 0, "paddingOuter": 0}},
           "fill": {"field": "series", "type": "nominal", "scale": {"domain": ["control","1 µM glyburide","α-tocotrienol","γ-tocotrienol","δ-tocotrienol"], "range": ["#ffffff","#ffffff","#b4b4b4","#000000","#404040"]}, "legend": null}
         }},
        {"data": {"name": "bars"}, "transform": [{"filter": "datum.panel == 'B' && (datum.group == 'control' || datum.group == '1 µM glyburide')"}], "mark": {"type": "rule", "color": "#000", "strokeWidth": 1.5}, "encoding": {"y2": {"field": "hi"}}},
        {"data": {"name": "bars"}, "transform": [{"filter": "datum.panel == 'B' && (datum.group == 'control' || datum.group == '1 µM glyburide')"}], "mark": {"type": "tick", "color": "#000", "thickness": 2.5, "size": 9}, "encoding": {"y": {"field": "hi", "type": "quantitative", "title": "relative gene expression"}}},
        {"data": {"name": "bars"}, "transform": [{"filter": "datum.panel == 'B' && datum.group != 'control' && datum.group != '1 µM glyburide'"}], "mark": {"type": "rule", "color": "#000", "strokeWidth": 1.5}, "encoding": {"xOffset": {"field": "series", "type": "nominal"}, "y2": {"field": "hi"}}},
        {"data": {"name": "bars"}, "transform": [{"filter": "datum.panel == 'B' && datum.group != 'control' && datum.group != '1 µM glyburide'"}], "mark": {"type": "tick", "color": "#000", "thickness": 2.5, "size": 9}, "encoding": {"xOffset": {"field": "series", "type": "nominal"}, "y": {"field": "hi", "type": "quantitative", "title": "relative gene expression"}}},
        {"data": {"name": "notes"}, "transform": [{"filter": "datum.panel == 'B'"}], "mark": {"type": "text", "fontSize": 14.5, "color": "#555", "baseline": "middle"}, "encoding": {"xOffset": {"field": "series", "type": "nominal"}, "text": {"field": "sym"}}},
        {"data": {"name": "brackets"}, "transform": [{"filter": "datum.panel == 'B'"}], "mark": {"type": "line", "color": "#333", "strokeWidth": 2}, "encoding": {"xOffset": {"field": "series", "type": "nominal"}, "detail": {"field": "bid"}, "order": {"field": "ord"}}},
        {"data": {"name": "stars"}, "transform": [{"filter": "datum.panel == 'B' && datum.kind == 'center'"}], "mark": {"type": "text", "fontSize": 20, "fontWeight": "bold", "color": "#111", "baseline": "middle", "dy": 5}, "encoding": {"xOffset": {"field": "series", "type": "nominal"}, "text": {"field": "star"}}},
        {"data": {"name": "stars"}, "transform": [{"filter": "datum.panel == 'B' && datum.kind == 'mid'"}], "mark": {"type": "text", "fontSize": 20, "fontWeight": "bold", "color": "#111", "baseline": "middle", "dy": 5, "dx": 9}, "encoding": {"xOffset": {"field": "series", "type": "nominal"}, "text": {"field": "star"}}}
      ]
     },
     {"data": {"name": "underline"}, "mark": {"type": "line", "color": "#333", "strokeWidth": 2.5}, "encoding": {"x": {"field": "group", "type": "nominal", "title": "tocotrienol concentration (µM)"}, "xOffset": {"field": "series", "type": "nominal"}, "y": {"datum": -0.166, "title": "relative gene expression", "axis": {"values": [0,0.1,0.2,0.3,0.4,0.5,0.6,0.7,0.8,0.9,1.0], "labelExpr": "slice(format(datum.value,'.2e'),0,4)+'E'+slice(format(datum.value,'.2e'),5,6)+'0'+slice(format(datum.value,'.2e'),6)"}}}},
     {"data": {"values": [{"label": "PDX1"}]}, "mark": {"type": "text", "fontSize": 25, "fontWeight": "bold", "color": "#111", "baseline": "middle"}, "encoding": {"x": {"datum": "150", "bandPosition": 0.291, "title": "tocotrienol concentration (µM)"}, "y": {"datum": 1.134, "title": "relative gene expression", "axis": {"values": [0,0.1,0.2,0.3,0.4,0.5,0.6,0.7,0.8,0.9,1.0], "labelExpr": "slice(format(datum.value,'.2e'),0,4)+'E'+slice(format(datum.value,'.2e'),5,6)+'0'+slice(format(datum.value,'.2e'),6)"}}, "text": {"field": "label"}}},
     {"data": {"values": [{"label": "B"}]}, "mark": {"type": "text", "fontSize": 33, "fontWeight": "bold", "color": "#000", "baseline": "middle"}, "encoding": {"x": {"datum": "control", "bandPosition": -1.507, "title": "tocotrienol concentration (µM)"}, "y": {"datum": 1.21, "title": "relative gene expression", "axis": {"values": [0,0.1,0.2,0.3,0.4,0.5,0.6,0.7,0.8,0.9,1.0], "labelExpr": "slice(format(datum.value,'.2e'),0,4)+'E'+slice(format(datum.value,'.2e'),5,6)+'0'+slice(format(datum.value,'.2e'),6)"}}, "text": {"field": "label"}}}
    ]
  },
  {
    "width": 562, "height": 309,
    "layer": [
     {
      "encoding": {
        "x": {"field": "group", "type": "nominal", "scale": {"domain": ["control","1 µM glyburide","150","300","600","1200"], "paddingInner": 0.03, "paddingOuter": 0.015}, "axis": {"title": "tocotrienol concentration (µM)", "titleX": 385, "titleY": 80, "labelExpr": "datum.value == '1 µM glyburide' ? ['1 µM', 'glyburide'] : datum.label"}},
        "y": {"field": "value", "type": "quantitative", "title": "relative gene expression", "scale": {"domain": [0, 1.4], "nice": false}, "axis": {"values": [0,0.2,0.4,0.6,0.8,1.0,1.2,1.4], "labelExpr": "slice(format(datum.value,'.2e'),0,4)+'E'+slice(format(datum.value,'.2e'),5,6)+'0'+slice(format(datum.value,'.2e'),6)"}}
      },
      "layer": [
        {"data": {"name": "bars"}, "transform": [{"filter": "datum.panel == 'D' && datum.series == 'control'"}], "mark": {"type": "bar", "width": {"band": 0.2}, "fill": "#ffffff", "stroke": "#000", "strokeWidth": 1.5}},
        {"data": {"name": "bars"}, "transform": [{"filter": "datum.panel == 'D' && datum.series == '1 µM glyburide'"}], "mark": {"type": "bar", "width": {"band": 0.2}, "stroke": "#000", "strokeWidth": 1.5, "fill": {"gradient": "linear", "x1": 0, "y1": 0, "x2": 0.1502, "y2": 1.1146, "stops": [{"offset":0,"color":"#fff"},{"offset":0.0357,"color":"#fff"},{"offset":0.0357,"color":"#000"},{"offset":0.0714,"color":"#000"},{"offset":0.0714,"color":"#fff"},{"offset":0.1071,"color":"#fff"},{"offset":0.1071,"color":"#000"},{"offset":0.1429,"color":"#000"},{"offset":0.1429,"color":"#fff"},{"offset":0.1786,"color":"#fff"},{"offset":0.1786,"color":"#000"},{"offset":0.2143,"color":"#000"},{"offset":0.2143,"color":"#fff"},{"offset":0.25,"color":"#fff"},{"offset":0.25,"color":"#000"},{"offset":0.2857,"color":"#000"},{"offset":0.2857,"color":"#fff"},{"offset":0.3214,"color":"#fff"},{"offset":0.3214,"color":"#000"},{"offset":0.3571,"color":"#000"},{"offset":0.3571,"color":"#fff"},{"offset":0.3929,"color":"#fff"},{"offset":0.3929,"color":"#000"},{"offset":0.4286,"color":"#000"},{"offset":0.4286,"color":"#fff"},{"offset":0.4643,"color":"#fff"},{"offset":0.4643,"color":"#000"},{"offset":0.5,"color":"#000"},{"offset":0.5,"color":"#fff"},{"offset":0.5357,"color":"#fff"},{"offset":0.5357,"color":"#000"},{"offset":0.5714,"color":"#000"},{"offset":0.5714,"color":"#fff"},{"offset":0.6071,"color":"#fff"},{"offset":0.6071,"color":"#000"},{"offset":0.6429,"color":"#000"},{"offset":0.6429,"color":"#fff"},{"offset":0.6786,"color":"#fff"},{"offset":0.6786,"color":"#000"},{"offset":0.7143,"color":"#000"},{"offset":0.7143,"color":"#fff"},{"offset":0.75,"color":"#fff"},{"offset":0.75,"color":"#000"},{"offset":0.7857,"color":"#000"},{"offset":0.7857,"color":"#fff"},{"offset":0.8214,"color":"#fff"},{"offset":0.8214,"color":"#000"},{"offset":0.8571,"color":"#000"},{"offset":0.8571,"color":"#fff"},{"offset":0.8929,"color":"#fff"},{"offset":0.8929,"color":"#000"},{"offset":0.9286,"color":"#000"},{"offset":0.9286,"color":"#fff"},{"offset":0.9643,"color":"#fff"},{"offset":0.9643,"color":"#000"},{"offset":1,"color":"#000"}]}}},
        {"data": {"name": "bars"}, "transform": [{"filter": "datum.panel == 'D' && datum.group != 'control' && datum.group != '1 µM glyburide'"}], "mark": {"type": "bar", "stroke": "#000", "strokeWidth": 1.5},
         "encoding": {
           "xOffset": {"field": "series", "type": "nominal", "scale": {"domain": ["_1","_2","α-tocotrienol","γ-tocotrienol","δ-tocotrienol"], "paddingInner": 0, "paddingOuter": 0}},
           "fill": {"field": "series", "type": "nominal", "scale": {"domain": ["control","1 µM glyburide","α-tocotrienol","γ-tocotrienol","δ-tocotrienol"], "range": ["#ffffff","#ffffff","#b4b4b4","#000000","#404040"]}, "legend": null}
         }},
        {"data": {"name": "bars"}, "transform": [{"filter": "datum.panel == 'D' && (datum.group == 'control' || datum.group == '1 µM glyburide')"}], "mark": {"type": "rule", "color": "#000", "strokeWidth": 1.5}, "encoding": {"y2": {"field": "hi"}}},
        {"data": {"name": "bars"}, "transform": [{"filter": "datum.panel == 'D' && (datum.group == 'control' || datum.group == '1 µM glyburide')"}], "mark": {"type": "tick", "color": "#000", "thickness": 2.5, "size": 9}, "encoding": {"y": {"field": "hi", "type": "quantitative", "title": "relative gene expression"}}},
        {"data": {"name": "bars"}, "transform": [{"filter": "datum.panel == 'D' && datum.group != 'control' && datum.group != '1 µM glyburide'"}], "mark": {"type": "rule", "color": "#000", "strokeWidth": 1.5}, "encoding": {"xOffset": {"field": "series", "type": "nominal"}, "y2": {"field": "hi"}}},
        {"data": {"name": "bars"}, "transform": [{"filter": "datum.panel == 'D' && datum.group != 'control' && datum.group != '1 µM glyburide'"}], "mark": {"type": "tick", "color": "#000", "thickness": 2.5, "size": 9}, "encoding": {"xOffset": {"field": "series", "type": "nominal"}, "y": {"field": "hi", "type": "quantitative", "title": "relative gene expression"}}},
        {"data": {"name": "notes"}, "transform": [{"filter": "datum.panel == 'D'"}], "mark": {"type": "text", "fontSize": 14.5, "color": "#555", "baseline": "middle"}, "encoding": {"xOffset": {"field": "series", "type": "nominal"}, "text": {"field": "sym"}}},
        {"data": {"name": "brackets"}, "transform": [{"filter": "datum.panel == 'D'"}], "mark": {"type": "line", "color": "#333", "strokeWidth": 2}, "encoding": {"xOffset": {"field": "series", "type": "nominal"}, "detail": {"field": "bid"}, "order": {"field": "ord"}}},
        {"data": {"name": "stars"}, "transform": [{"filter": "datum.panel == 'D' && datum.kind == 'center'"}], "mark": {"type": "text", "fontSize": 20, "fontWeight": "bold", "color": "#111", "baseline": "middle", "dy": 5}, "encoding": {"xOffset": {"field": "series", "type": "nominal"}, "text": {"field": "star"}}},
        {"data": {"name": "stars"}, "transform": [{"filter": "datum.panel == 'D' && datum.kind == 'mid'"}], "mark": {"type": "text", "fontSize": 20, "fontWeight": "bold", "color": "#111", "baseline": "middle", "dy": 5, "dx": 9}, "encoding": {"xOffset": {"field": "series", "type": "nominal"}, "text": {"field": "star"}}}
      ]
     },
     {"data": {"name": "underline"}, "mark": {"type": "line", "color": "#333", "strokeWidth": 2.5}, "encoding": {"x": {"field": "group", "type": "nominal", "title": "tocotrienol concentration (µM)"}, "xOffset": {"field": "series", "type": "nominal"}, "y": {"datum": -0.236, "title": "relative gene expression", "axis": {"values": [0,0.2,0.4,0.6,0.8,1.0,1.2,1.4], "labelExpr": "slice(format(datum.value,'.2e'),0,4)+'E'+slice(format(datum.value,'.2e'),5,6)+'0'+slice(format(datum.value,'.2e'),6)"}}}},
     {"data": {"values": [{"label": "PDX1"}]}, "mark": {"type": "text", "fontSize": 25, "fontWeight": "bold", "color": "#111", "baseline": "middle"}, "encoding": {"x": {"datum": "150", "bandPosition": 0.29, "title": "tocotrienol concentration (µM)"}, "y": {"datum": 1.597, "title": "relative gene expression", "axis": {"values": [0,0.2,0.4,0.6,0.8,1.0,1.2,1.4], "labelExpr": "slice(format(datum.value,'.2e'),0,4)+'E'+slice(format(datum.value,'.2e'),5,6)+'0'+slice(format(datum.value,'.2e'),6)"}}, "text": {"field": "label"}}},
     {"data": {"values": [{"label": "D"}]}, "mark": {"type": "text", "fontSize": 33, "fontWeight": "bold", "color": "#000", "baseline": "middle"}, "encoding": {"x": {"datum": "control", "bandPosition": -1.474, "title": "tocotrienol concentration (µM)"}, "y": {"datum": 1.862, "title": "relative gene expression", "axis": {"values": [0,0.2,0.4,0.6,0.8,1.0,1.2,1.4], "labelExpr": "slice(format(datum.value,'.2e'),0,4)+'E'+slice(format(datum.value,'.2e'),5,6)+'0'+slice(format(datum.value,'.2e'),6)"}}, "text": {"field": "label"}}}
    ]
  }
 ]}
]
}
